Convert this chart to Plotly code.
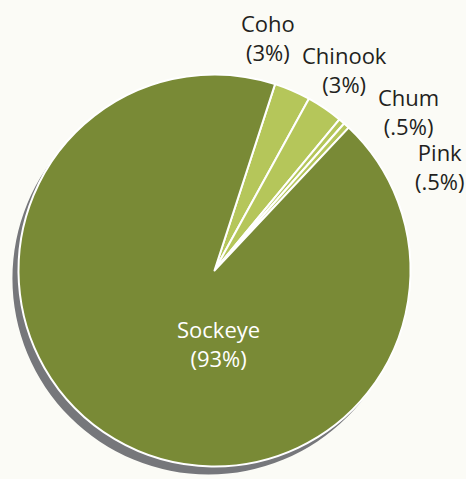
import plotly.graph_objects as go

species = ["Coho", "Chinook", "Chum", "Pink", "Sockeye"]
shares = [3, 3, 0.5, 0.5, 93]
share_labels = ["3%", "3%", ".5%", ".5%", "93%"]
colors = ["#b5c65a", "#b5c65a", "#b5c65a", "#b5c65a", "#798a36"]

W, H = 466, 479
cx, cy, r = 214.5, 270.5, 196
sx, sy = -6, 8  # shadow offset px

def dom(cx, cy):
    return dict(x=[(cx - r) / W, (cx + r) / W], y=[1 - (cy + r) / H, 1 - (cy - r) / H])

fig = go.Figure()
fig.add_trace(go.Pie(values=[1], labels=["shadow"], marker=dict(colors=["#76777b"], line=dict(width=0)),
                     textinfo="none", hoverinfo="skip", sort=False, domain=dom(cx + sx, cy + sy), showlegend=False))
fig.add_trace(go.Pie(values=shares, labels=species, marker=dict(colors=colors, line=dict(color="white", width=2)),
                     textinfo="none", sort=False, direction="clockwise", rotation=18,
                     domain=dom(cx, cy), showlegend=False))

# label block centers in px
label_pos = {
    "Coho": (268, 37),
    "Chinook": (344, 70),
    "Chum": (408, 111),
    "Pink": (440, 166),
    "Sockeye": (218, 343),
}
for name, pct in zip(species, share_labels):
    px, py = label_pos[name]
    col = "white" if name == "Sockeye" else "#231f20"
    fig.add_annotation(x=px / W, y=1 - py / H, xref="paper", yref="paper", showarrow=False,
                       text=f"{name}<br>({pct})", align="center", xanchor="center", yanchor="middle",
                       font=dict(family="Open Sans", size=22, color=col))

fig.update_layout(width=W, height=H, margin=dict(l=0, r=0, t=0, b=0),
                  paper_bgcolor="#fbfbf6", plot_bgcolor="#fbfbf6")
fig.write_html("out.html", config={"displayModeBar": False},
               post_script="document.body.style.margin='0';document.body.style.overflow='hidden';")
